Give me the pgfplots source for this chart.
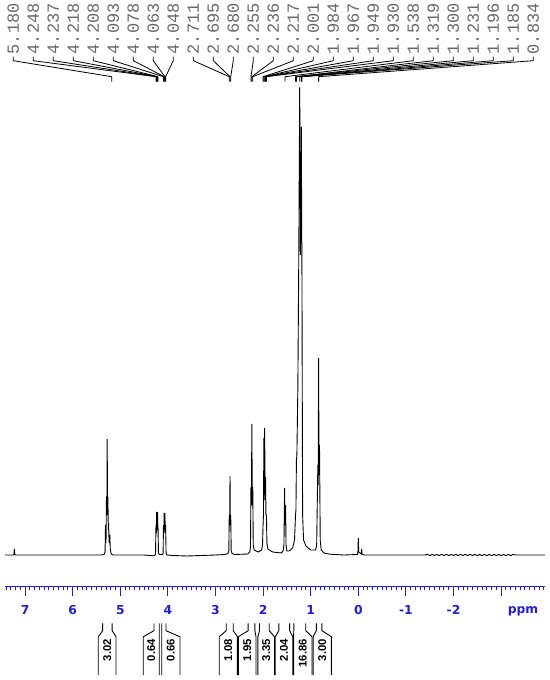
\documentclass[border=0pt]{standalone}
\usepackage{fontspec}
\setmainfont{Liberation Sans}
\newfontfamily\monofont{Liberation Mono}
\newfontfamily\tickfam{DejaVu Sans}
\usepackage{pgfplots}
\pgfplotsset{compat=1.18}
\definecolor{axisblue}{RGB}{30,30,220}
\definecolor{labgray}{RGB}{105,105,105}
\newcommand\labfont{\monofont\fontsize{17bp}{17bp}\selectfont}
\newcommand\tickfont{\tickfam\fontsize{12.3bp}{14bp}\selectfont\bfseries}
\newcommand\intfont{\fontsize{11.3bp}{12bp}\selectfont\bfseries}
\begin{document}
\begin{tikzpicture}
\useasboundingbox (0,0) rectangle (550bp,680bp);
\begin{axis}[
  at={(5bp,93.2bp)}, anchor=south west,
  scale only axis, width=540bp, height=586.8bp,
  xmin=-3.922, xmax=7.422, ymin=-31.8, ymax=555,
  x dir=reverse,
  axis x line=bottom, axis y line=none,
  x axis line style={-, draw=axisblue, line width=1bp},
  xtick={-3,...,7},
  xticklabels={{},-2,-1,0,1,2,3,4,5,6,7},
  minor xtick={-3.9,-3.8,...,7.4},
  tick align=outside,
  major tick length=9bp, minor tick length=3.5bp,
  every tick/.style={draw=axisblue, line width=1bp},
  xticklabel style={font=\tickfont, text=axisblue, anchor=center, yshift=-14.5bp},
  clip=false,
]
% spectrum: ppm vs intensity (baseline 0)
\addplot[black, line width=0.9bp] coordinates {
(7.42,0) (7.25,0) (7.235,0.5) (7.225,6) (7.215,0.5) (7.20,0)
(5.40,0) (5.34,0.5) (5.32,3) (5.31,30) (5.30,12) (5.29,58) (5.282,40)
(5.275,116) (5.268,45) (5.26,58) (5.252,25) (5.245,32) (5.235,12)
(5.22,20) (5.21,6) (5.19,1) (5.15,0)
(4.50,0) (4.30,-0.8) (4.27,0) (4.26,1) (4.25,30) (4.243,22) (4.237,43)
(4.228,25) (4.218,43) (4.213,25) (4.208,30) (4.198,2) (4.18,0.5)
(4.11,0.5) (4.10,2) (4.093,30) (4.086,22) (4.078,42) (4.07,25)
(4.063,42) (4.055,22) (4.048,30) (4.038,2) (4.02,0)
(3.9,-0.5) (3.6,-1) (3.3,-0.5) (3.0,0)
(2.80,0.5) (2.74,1.5) (2.72,4) (2.711,40) (2.703,30) (2.695,79)
(2.688,30) (2.680,40) (2.67,4) (2.65,1.5) (2.60,0.5)
(2.32,1) (2.28,3) (2.265,8) (2.255,68) (2.246,50) (2.236,131)
(2.227,50) (2.217,68) (2.207,10) (2.19,5) (2.10,3)
(2.03,5) (2.012,10) (2.001,30) (1.992,40) (1.984,117) (1.975,60)
(1.967,127) (1.958,55) (1.949,78) (1.940,40) (1.930,40) (1.92,12)
(1.90,6) (1.80,3) (1.62,2) (1.58,4) (1.562,10) (1.548,67) (1.54,30)
(1.528,50) (1.518,10) (1.50,4) (1.45,4)
(1.38,7) (1.34,15) (1.319,40) (1.31,45) (1.300,95) (1.29,100)
(1.27,167) (1.25,300) (1.231,468) (1.215,300) (1.196,428) (1.19,330)
(1.185,300) (1.17,40) (1.15,15) (1.10,9) (1.00,5) (0.90,5)
(0.875,9) (0.85,90) (0.842,70) (0.834,197) (0.825,80) (0.815,110)
(0.80,15) (0.78,5) (0.72,2) (0.60,0.8) (0.30,0)
(0.02,0.5) (0.008,3) (0.0,17) (-0.008,3) (-0.06,1) (-0.07,6)
(-0.08,1) (-0.12,0) (-1.4,0)
(-1.45,0.6) (-1.50,-0.6) (-1.55,0.6) (-1.60,-0.6) (-1.65,0.6) (-1.70,-0.6)
(-1.75,0.6) (-1.80,-0.6) (-1.85,0.6) (-1.90,-0.6) (-1.95,0.6) (-2.00,-0.6)
(-2.05,0.6) (-2.10,-0.6) (-2.15,0.6) (-2.20,-0.6) (-2.25,0.6) (-2.30,-0.6)
(-2.35,0.6) (-2.40,-0.6) (-2.45,0.6) (-2.50,-0.6) (-2.55,0.6) (-2.60,-0.6)
(-2.65,0.6) (-2.70,-0.6) (-2.75,0.6) (-2.80,-0.6) (-2.85,0.6) (-2.90,-0.6)
(-2.95,0.6) (-3.00,-0.6) (-3.05,0.6) (-3.10,-0.6) (-3.15,0.6) (-3.20,-0.6)
(-3.25,0.6) (-3.30,0) (-3.922,0)
};
% peak labels and their connectors
\foreach \lx/\pk in {7.248/5.180, 6.828/4.248, 6.408/4.237, 5.987/4.218,
  5.567/4.208, 5.147/4.093, 4.727/4.078, 4.307/4.063, 3.887/4.048,
  3.466/2.711, 3.046/2.695, 2.626/2.680, 2.206/2.255, 1.786/2.236,
  1.366/2.217, 0.945/2.001, 0.525/1.984, 0.105/1.967, -0.315/1.949,
  -0.735/1.930, -1.155/1.538, -1.576/1.319, -1.996/1.300, -2.416/1.231,
  -2.836/1.196, -3.256/1.185, -3.676/0.834}{
  \edef\temp{\noexpand\draw[black, line width=0.8bp]
    (axis cs:\lx,498.3) -- (axis cs:\lx,494.3) -- (axis cs:\pk,478.3) -- (axis cs:\pk,473.3);
    \noexpand\node[rotate=90, anchor=west, inner sep=0pt, text=labgray]
    at (axis cs:\lx,500.5) {\noexpand\labfont \pk};}
  \temp
}
% integrals
\foreach \sa/\sb/\ba/\bb/\cx/\val in {
  5.370/5.170/5.462/5.090/5.276/3.02,
  4.292/4.181/4.517/4.181/4.349/0.64,
  4.130/4.040/4.130/3.746/3.938/0.66,
  2.775/2.628/2.922/2.540/2.731/1.08,
  2.313/2.172/2.519/2.149/2.334/1.95,
  2.076/1.870/2.109/1.761/1.935/3.35,
  1.670/1.443/1.744/1.376/1.560/2.04,
  1.355/1.103/1.359/0.973/1.166/16.86,
  0.882/0.765/0.950/0.565/0.757/3.00}{
  \edef\temp{\noexpand\draw[black, line width=0.9bp]
    (axis cs:\sa,-68.3) -- (axis cs:\sa,-75.7) -- (axis cs:\ba,-81.7) -- (axis cs:\ba,-120)
    (axis cs:\sb,-68.3) -- (axis cs:\sb,-75.7) -- (axis cs:\bb,-81.7) -- (axis cs:\bb,-120);
    \noexpand\node[rotate=90, anchor=east, inner sep=0pt]
    at (axis cs:\cx,-84) {\noexpand\intfont \val};}
  \temp
}
\node[font=\tickfont, text=axisblue] at (axis cs:-3.46,-56.7) {ppm};
\end{axis}
\end{tikzpicture}
\end{document}
